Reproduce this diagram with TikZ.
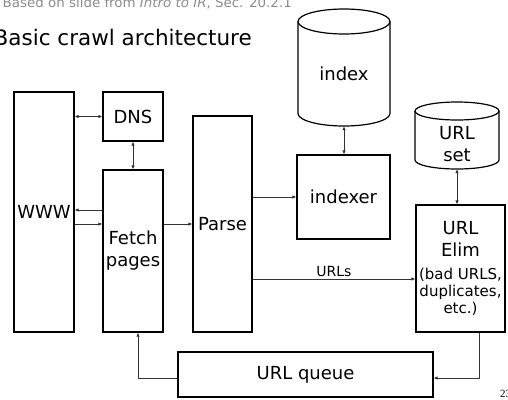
\documentclass[tikz,border=0pt]{standalone}
\usepackage{fontspec}
\setmainfont{DejaVu Sans}
\newfontfamily\numfont{Liberation Serif}
\usetikzlibrary{arrows.meta}
\begin{document}
\begin{tikzpicture}[x=1pt,y=-1pt,
  box/.style={draw=black,line width=1.2pt,inner sep=0pt,align=center,font=\fontsize{18}{22}\selectfont},
  cylnode/.style={inner sep=0pt,align=center,font=\fontsize{18}{22}\selectfont},
  cyl/.style={draw=black,line width=1.2pt},
  arr/.style={draw=black!80,line width=0.8pt,-{Latex[length=4pt,width=3.5pt]}},
  biarr/.style={draw=black!80,line width=0.8pt,{Latex[length=4pt,width=3.5pt]}-{Latex[length=4pt,width=3.5pt]}},
  lbl/.style={font=\fontsize{14}{16}\selectfont,inner sep=1pt}]
\useasboundingbox (0,0) rectangle (508,399);
% header
\node[anchor=base east,text=black!45,font=\fontsize{13.4}{15}\selectfont,inner sep=0pt] (hdr) at (292,7) {Based on slide from \textit{Intro to IR}, Sec. 20.2.1};
\node[anchor=base east,font=\fontsize{21.5}{24}\selectfont,inner sep=0pt] (title) at (252,45) {Basic crawl architecture};
% boxes
\node[box,minimum width=60,minimum height=240] (www) at (44,212) {WWW};
\node[box,minimum width=60,minimum height=49] (dns) at (133,116.5) {DNS};
\node[box,minimum width=60,minimum height=162] (fetch) at (133,251) {Fetch\\pages};
\node[box,minimum width=59,minimum height=216] (parse) at (222.5,224) {Parse};
\node[box,minimum width=93,minimum height=84] (indexer) at (343.5,197) {indexer};
\node[box,minimum width=89,minimum height=127] (elim) at (460.5,268.5)
  {URL\\Elim\\[1pt]{\fontsize{15}{17}\selectfont (bad URLS,}\\[-5pt]{\fontsize{15}{17}\selectfont duplicates,}\\[-5pt]{\fontsize{15}{17}\selectfont etc.)}};
\node[box,minimum width=255,minimum height=45] (queue) at (305.5,374.5) {URL queue};
% cylinders
\draw[cyl] (344,21.5) ellipse [x radius=46, y radius=12.5];
\draw[cyl] (298,21.5) -- (298,113.5) .. controls (298,120.4) and (318.6,126) .. (344,126)
  .. controls (369.4,126) and (390,120.4) .. (390,113.5) -- (390,21.5);
\node[cylnode,minimum width=92,minimum height=104] (index) at (344,74) {index};
\draw[cyl] (457,111) ellipse [x radius=42, y radius=9];
\draw[cyl] (415,111) -- (415,160) .. controls (415,165) and (433.8,169) .. (457,169)
  .. controls (480.2,169) and (499,165) .. (499,160) -- (499,111);
\node[cylnode,minimum width=84,minimum height=50] (urlset) at (457,144) {URL\\set};
% connectors
\draw[biarr] (www.east |- dns.west) -- (dns.west);
\draw[biarr] (dns.south) -- (fetch.north);
\draw[arr] (fetch.west |- 0,210) -- (www.east |- 0,210);
\draw[arr] (www.east |- 0,224) -- (fetch.west |- 0,224);
\draw[arr] (fetch.east |- 0,224) -- (parse.west |- 0,224);
\draw[arr] (parse.east |- indexer.west) -- (indexer.west);
\draw[biarr] (index.south) -- (indexer.north -| index.south);
\draw[biarr] (urlset.south) -- (elim.north -| urlset.south);
\draw[arr] (parse.east |- 0,279) -- (elim.west |- 0,279) node[lbl,midway,above=1pt] (urls) {URLs};
\draw[arr] (elim.south -| 479,0) |- (queue.east |- 0,378);
\draw[arr] (queue.west |- 0,378) -| (fetch.south -| 138,0);
% page number
\node[anchor=base west,font=\numfont\fontsize{11}{12}\selectfont,inner sep=0pt] (pg) at (500,397) {23};
\end{tikzpicture}
\end{document}
